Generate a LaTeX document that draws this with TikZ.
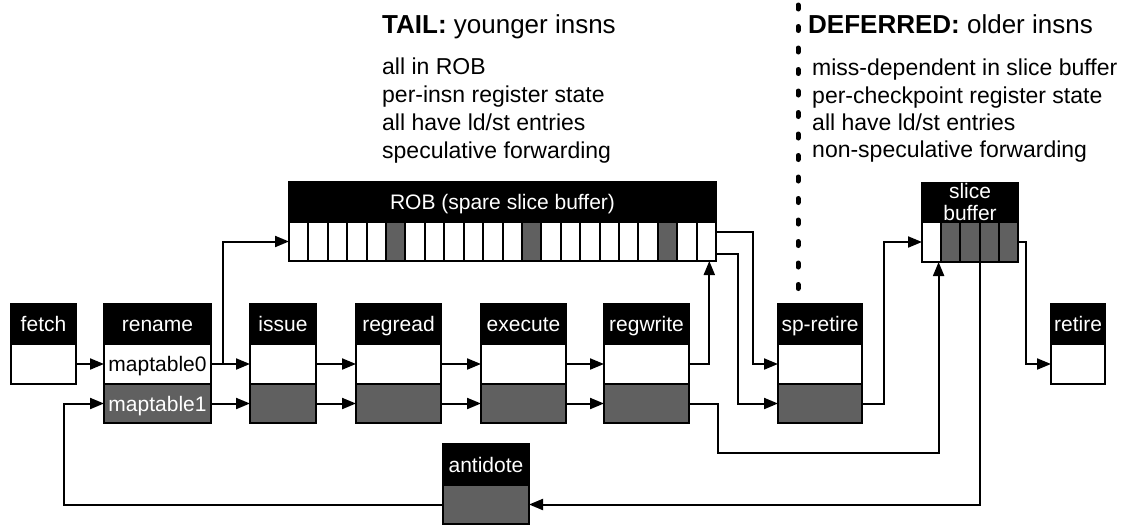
\documentclass[tikz,border=0pt]{standalone}
\usepackage{fontspec}
\setmainfont{Liberation Sans}
\usetikzlibrary{arrows.meta}
\definecolor{cellgray}{RGB}{96,96,96}
\newcommand{\lblfont}{\fontsize{21}{22}\selectfont}
\newcommand{\headfont}{\fontsize{26}{30}\selectfont}
\newcommand{\listfont}{\fontsize{23}{28}\selectfont}
% #1 name, #2 x, #3 width, #4 label
\newcommand{\mkstage}[4]{%
  \node[hdr, minimum width=#3pt] (#1h) at (#2,304) {#4};
  \node[wcell, minimum width=#3pt] (#1w) at (#2,344) {};
  \node[gcell, minimum width=#3pt] (#1g) at (#2,384) {};
}
\begin{document}
\begin{tikzpicture}[x=1pt,y=-1pt,
  box/.style={draw=black, line width=2pt, inner sep=0pt, outer sep=0pt, anchor=north west,
              font=\lblfont, text height=15pt, text depth=0pt},
  hdr/.style={box, fill=black, text=white, minimum height=40pt},
  wcell/.style={box, fill=white, text=black, minimum height=40pt},
  gcell/.style={box, fill=cellgray, text=white, minimum height=39pt},
  rcell/.style={draw=black, line width=2pt, inner sep=0pt, outer sep=0pt, anchor=north west,
                minimum height=39pt},
  arr/.style={line width=2pt, -{Triangle[length=14pt,width=11pt]}},
  txt/.style={anchor=base west, inner sep=0pt},
]
\useasboundingbox (0,0) rectangle (1131,525);

% ---- top texts
\node[txt, font=\headfont] (tailh) at (382,33) {\textbf{TAIL:} younger insns};
\node[txt, font=\listfont] (tail1) at (382,74) {all in ROB};
\node[txt, font=\listfont] (tail2) at (382,102) {per-insn register state};
\node[txt, font=\listfont] (tail3) at (382,130) {all have ld/st entries};
\node[txt, font=\listfont] (tail4) at (382,158) {speculative forwarding};

\node[txt, font=\headfont] (defh) at (808,33) {\textbf{DEFERRED:} older insns};
\node[txt, font=\listfont] (def1) at (812,75) {miss-dependent in slice buffer};
\node[txt, font=\listfont] (def2) at (812,103) {per-checkpoint register state};
\node[txt, font=\listfont] (def3) at (812,130) {all have ld/st entries};
\node[txt, font=\listfont] (def4) at (812,157) {non-speculative forwarding};

% ---- dotted separator
\coordinate (sepA) at (798,5);
\coordinate (sepB) at (798,291);
\draw[line width=5pt, line cap=round, dash pattern=on 4pt off 17.5pt] (sepA) -- (sepB);

% ---- pipeline stages
\node[hdr, minimum width=65pt] (fetchh) at (11,304) {fetch};
\node[wcell, minimum width=65pt] (fetchw) at (11,344) {};

\node[hdr, minimum width=107pt] (renameh) at (104,304) {rename};
\node[wcell, minimum width=107pt] (renamew) at (104,344) {maptable0};
\node[gcell, minimum width=107pt] (renameg) at (104,384) {maptable1};

\mkstage{issue}{250}{66}{issue}
\mkstage{regread}{356}{85}{regread}
\mkstage{execute}{481}{85}{execute}
\mkstage{regwrite}{604}{85}{regwrite}
\mkstage{sp}{778}{84}{sp-retire}

\node[hdr, minimum width=54pt] (retireh) at (1051,304) {retire};
\node[wcell, minimum width=54pt] (retirew) at (1051,344) {};

\node[hdr, minimum width=86pt, minimum height=41pt] (anth) at (443,444) {antidote};
\node[gcell, minimum width=86pt] (antg) at (443,485) {};

% ---- ROB
\node[hdr, minimum width=427pt] (robh) at (289,182) {ROB (spare slice buffer)};
\node[rcell, fill=white, minimum width=427pt] (robbody) at (289,222) {};
\foreach \i in {0,...,21}{
  \pgfmathsetmacro{\cx}{289+19.409*\i}
  \ifnum\i=5 \def\cf{cellgray}\else\ifnum\i=12 \def\cf{cellgray}\else\ifnum\i=19 \def\cf{cellgray}\else\def\cf{white}\fi\fi\fi
  \node[rcell, fill=\cf, minimum width=19.409pt] (robc\i) at (\cx,222) {};
}

% ---- slice buffer
\node[hdr, minimum width=96pt] (slh) at (922,183) {};
\node[anchor=base, inner sep=0pt, text=white, font=\lblfont] (slt1) at (970,198) {slice};
\node[anchor=base, inner sep=0pt, text=white, font=\lblfont] (slt2) at (970,220) {buffer};
\node[rcell, fill=white, minimum width=96pt, minimum height=40pt] (slbody) at (922,222) {};
\foreach \i in {0,...,4}{
  \pgfmathsetmacro{\cx}{922+19.2*\i}
  \ifnum\i=0 \def\cf{white}\else\def\cf{cellgray}\fi
  \node[rcell, fill=\cf, minimum width=19.2pt, minimum height=40pt] (slc\i) at (\cx,222) {};
}

% ---- connectors
\draw[arr] (fetchw.east) -- (renamew.west);
\draw[arr] (renamew.east) -- (issuew.west);
\draw[arr] (renameg.east) -- (issueg.west);
\coordinate (br) at (223,364);
\draw[arr] (br) |- (robc0.west);
\draw[arr] (issuew.east) -- (regreadw.west);
\draw[arr] (issueg.east) -- (regreadg.west);
\draw[arr] (regreadw.east) -- (executew.west);
\draw[arr] (regreadg.east) -- (executeg.west);
\draw[arr] (executew.east) -- (regwritew.west);
\draw[arr] (executeg.east) -- (regwriteg.west);

\draw[arr] (regwritew.east) -| ([xshift=3pt]robc21.south);
\draw[arr] (regwriteg.east) -- ++(29,0) -- ++(0,49) -| ([xshift=7pt]slc0.south);

\draw[arr] ([yshift=10pt]robbody.east) -- ++(37,0) |- (spw.west);
\draw[arr] ([yshift=-12pt]robbody.east) -- ++(22,0) |- (spg.west);

\draw[arr] (spg.east) -- ++(22,0) |- (slbody.west);
\draw[arr] (slbody.east) -- ++(8,0) |- (retirew.west);
\draw[arr] (slc2.south east) |- (antg.east);
\draw[arr] (antg.west) -- ++(-379,0) |- (renameg.west);
\end{tikzpicture}
\end{document}
